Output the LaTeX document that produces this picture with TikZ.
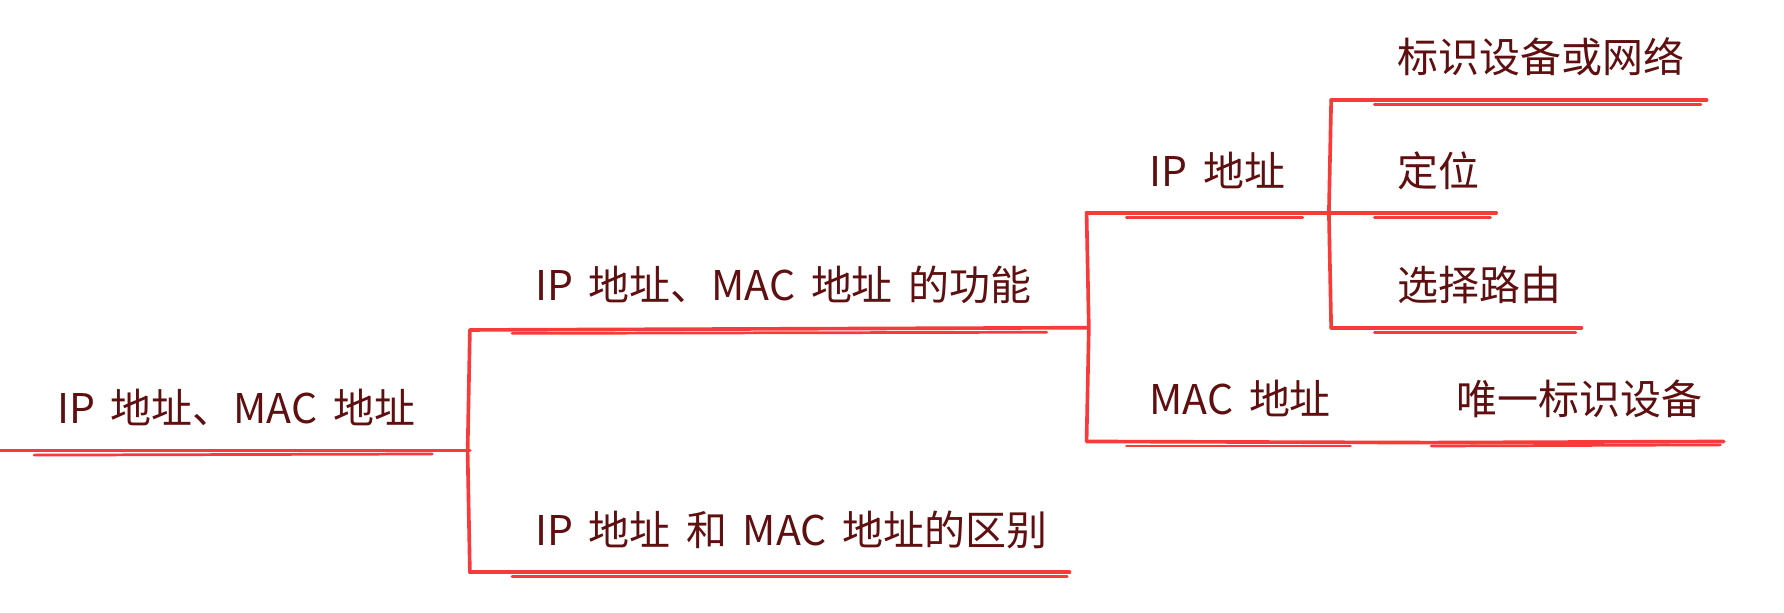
\documentclass[tikz,border=0pt]{standalone}
\usepackage{fontspec}
\newfontfamily\cjk[WordSpace=1.7]{Noto Sans CJK SC}
\definecolor{txt}{HTML}{5F0F0F}
\definecolor{ln}{HTML}{F73A3A}
\begin{document}
\begin{tikzpicture}[x=0.5pt,y=-0.5pt,
  lbl/.style={anchor=base west,inner sep=0pt,text=txt,font=\cjk\fontsize{18pt}{20pt}\selectfont},
  edge/.style={draw=ln,line width=1.6pt,line cap=round,line join=round},
  edge2/.style={draw=ln,line width=1.2pt,line cap=round}]
\useasboundingbox (0,0) rectangle (1568,538);
% texts
\node[lbl] (root) at (50,372) {IP 地址、MAC 地址};
\node[lbl] (fn)   at (470,264) {IP 地址、MAC 地址 的功能};
\node[lbl] (df)   at (470,479) {IP 地址 和 MAC 地址的区别};
\node[lbl] (ip)   at (1010,164) {IP 地址};
\node[lbl] (mac)  at (1010,364) {MAC 地址};
\node[lbl] (bs)   at (1228,64) {标识设备或网络};
\node[lbl] (dw)   at (1228,164) {定位};
\node[lbl] (lu)   at (1228,264) {选择路由};
\node[lbl] (wy)   at (1280,364) {唯一标识设备};
% coordinates
\coordinate (r0) at (0,396);
\coordinate (r1) at (413,396);
\coordinate (b1t) at (413,290);
\coordinate (b1b) at (413,503);
\coordinate (fnE) at (955,288);
\coordinate (dfE) at (940,503);
\coordinate (b2t) at (955,187);
\coordinate (b2b) at (955,388);
\coordinate (ipE) at (1170,187);
\coordinate (macE) at (1257,389);
\coordinate (wyE) at (1515,388);
\coordinate (b3t) at (1170,88);
\coordinate (b3b) at (1170,288);
\coordinate (bsE) at (1500,88);
\coordinate (dwE) at (1315,187);
\coordinate (luE) at (1390,288);
% main strokes
\draw[edge] (r0) -- (r1);
\draw[edge] (b1t) -- (411,397) -- (b1b);
\draw[edge] (b1t) -- (fnE);
\draw[edge] (b1b) -- (dfE);
\draw[edge] (b2t) -- (957,288) -- (b2b);
\draw[edge] (b2t) -- (ipE);
\draw[edge] (b2b) -- (macE) -- (wyE);
\draw[edge] (b3t) -- (1168,187) -- (b3b);
\draw[edge] (b3t) -- (bsE);
\draw[edge] (ipE) -- (dwE);
\draw[edge] (b3b) -- (luE);
% sketchy second strokes
\draw[edge2] (30,400) -- (380,399);
\draw[edge2] (450,293) -- (920,292);
\draw[edge2] (450,507) -- (938,507);
\draw[edge2] (990,191) -- (1145,191);
\draw[edge2] (990,392) -- (1187,392);
\draw[edge2] (1258,392) -- (1512,391);
\draw[edge2] (1208,92) -- (1495,92);
\draw[edge2] (1208,191) -- (1310,191);
\draw[edge2] (1208,292) -- (1385,292);
\end{tikzpicture}
\end{document}
